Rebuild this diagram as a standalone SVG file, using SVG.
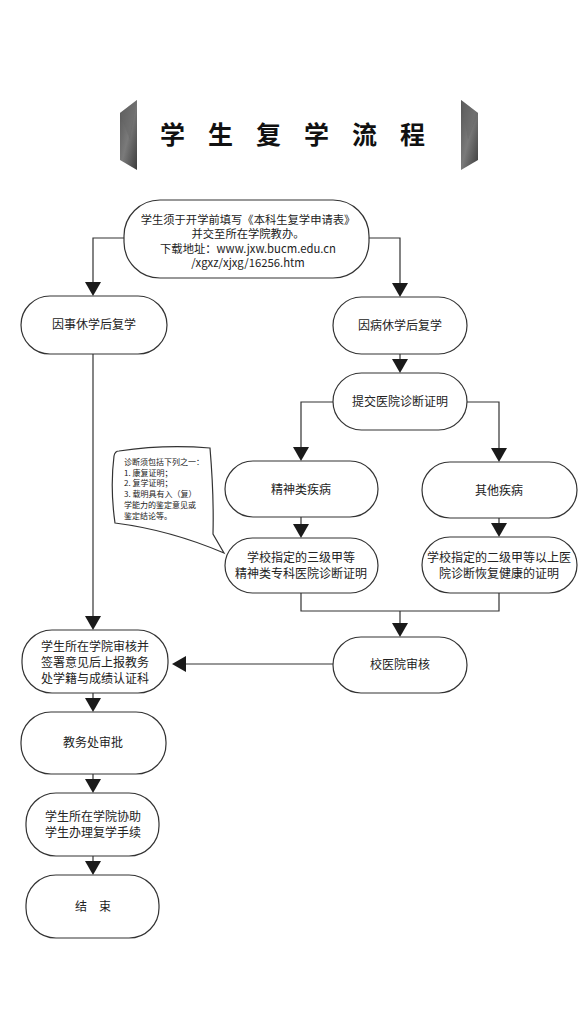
<svg xmlns="http://www.w3.org/2000/svg" width="588" height="1022" viewBox="0 0 588 1022">
<style>
.node{fill:#fff;stroke:#333;stroke-width:1.2}
.t{font-family:"Noto Sans CJK SC","Noto Sans",sans-serif;font-size:12px;fill:#222;text-anchor:middle}
.s{font-family:"Noto Sans CJK SC","Noto Sans",sans-serif;font-size:8px;fill:#222}
.c{fill:none;stroke:#333;stroke-width:1.2}
.ah{fill:#1a1a1a}
.title{font-family:"Noto Sans CJK SC","Noto Sans",sans-serif;font-size:25px;font-weight:bold;fill:#111}
</style>
<defs>
<linearGradient id="g" x1="0" y1="0" x2="1" y2="1">
<stop offset="0" stop-color="#555"/>
<stop offset="0.5" stop-color="#7a7a7a"/>
<stop offset="1" stop-color="#3c3c3c"/>
</linearGradient>
</defs>
<rect width="588" height="1022" fill="#fff"/>
<g id="title">
<polygon points="120,113 137,100 137,170 120,160" fill="url(#g)"/>
<polygon points="120,113 137,100 130,140" fill="#666" opacity="0.5"/>
<polygon points="461,100 478,113 478,160 461,170" fill="url(#g)"/>
<polygon points="461,100 478,113 468,140" fill="#666" opacity="0.5"/>
<text class="title" x="160" y="144" letter-spacing="23">学生复学流程</text>
</g>
<g id="connectors">
<path class="c" d="M124,238 H93 V284"/>
<polygon class="ah" points="85,282 101,282 93,296"/>
<path class="c" d="M369,238 H400 V285"/>
<polygon class="ah" points="392,283 408,283 400,297"/>
<path class="c" d="M400,354 V362"/>
<polygon class="ah" points="392,359 408,359 400,373"/>
<path class="c" d="M333,402 H301 V448"/>
<polygon class="ah" points="293,447 309,447 301,461"/>
<path class="c" d="M467,402 H499 V449"/>
<polygon class="ah" points="491,448 507,448 499,462"/>
<path class="c" d="M301,517 V526"/>
<polygon class="ah" points="293,524 309,524 301,538"/>
<path class="c" d="M499,518 V526"/>
<polygon class="ah" points="491,523 507,523 499,537"/>
<path class="c" d="M301,593 V611 H499 V593 M400,611 V626"/>
<polygon class="ah" points="392,623 408,623 400,637"/>
<path class="c" d="M333,664 H184"/>
<polygon class="ah" points="186,656 186,672 172,664"/>
<path class="c" d="M93,354 V618"/>
<polygon class="ah" points="85,616 101,616 93,630"/>
<path class="c" d="M93,693 V700"/>
<polygon class="ah" points="85,698 101,698 93,712"/>
<path class="c" d="M93,774 V781"/>
<polygon class="ah" points="85,779 101,779 93,793"/>
<path class="c" d="M93,856 V863"/>
<polygon class="ah" points="85,861 101,861 93,875"/>
</g>
<g id="n-start">
<rect class="node" x="124" y="200" width="245" height="78" rx="36"/>
<text class="t" style="font-size:11.3px" x="248" y="224">学生须于开学前填写《本科生复学申请表》</text>
<text class="t" style="font-size:11.3px" x="248" y="238">并交至所在学院教办。</text>
<text class="t" style="font-size:11.3px" x="248" y="253">下载地址：www.jxw.bucm.edu.cn</text>
<text class="t" style="font-size:11.3px" x="248" y="267">/xgxz/xjxg/16256.htm</text>
</g>
<g id="n-shi">
<rect class="node" x="21" y="296" width="146" height="58" rx="29"/>
<text class="t" x="94" y="329">因事休学后复学</text>
</g>
<g id="n-bing">
<rect class="node" x="333" y="297" width="134" height="57" rx="28.5"/>
<text class="t" x="400" y="330">因病休学后复学</text>
</g>
<g id="n-submit">
<rect class="node" x="333" y="373" width="134" height="57" rx="28.5"/>
<text class="t" x="400" y="406">提交医院诊断证明</text>
</g>
<g id="n-mental">
<rect class="node" x="225" y="461" width="153" height="56" rx="28"/>
<text class="t" x="301" y="494">精神类疾病</text>
</g>
<g id="n-other">
<rect class="node" x="422" y="462" width="155" height="56" rx="28"/>
<text class="t" x="499" y="495">其他疾病</text>
</g>
<g id="n-mental-cert">
<rect class="node" x="225" y="538" width="153" height="55" rx="27.5"/>
<text class="t" x="301" y="562">学校指定的三级甲等</text>
<text class="t" x="301" y="578">精神类专科医院诊断证明</text>
</g>
<g id="n-other-cert">
<rect class="node" x="422" y="537" width="155" height="56" rx="28"/>
<text class="t" x="499" y="562">学校指定的二级甲等以上医</text>
<text class="t" x="499" y="578">院诊断恢复健康的证明</text>
</g>
<g id="n-note">
<path class="node" d="M119,451 Q165,444 210,448 Q214,495 213,534 L224,553 Q170,530 115,523 Q110,488 114,456 Q115,451 119,451 Z"/>
<text class="s" x="124" y="465">诊断须包括下列之一：</text>
<text class="s" x="124" y="476">1. 康复证明；</text>
<text class="s" x="124" y="486">2. 复学证明；</text>
<text class="s" x="124" y="497">3. 载明具有入（复）</text>
<text class="s" x="124" y="508">学能力的鉴定意见或</text>
<text class="s" x="124" y="519">鉴定结论等。</text>
</g>
<g id="n-hospital">
<rect class="node" x="333" y="637" width="134" height="56" rx="28"/>
<text class="t" x="400" y="669">校医院审核</text>
</g>
<g id="n-college">
<rect class="node" x="22" y="630" width="146" height="63" rx="30"/>
<text class="t" x="95" y="651">学生所在学院审核并</text>
<text class="t" x="95" y="667">签署意见后上报教务</text>
<text class="t" x="95" y="683">处学籍与成绩认证科</text>
</g>
<g id="n-approve">
<rect class="node" x="21" y="712" width="145" height="62" rx="30"/>
<text class="t" x="93" y="747">教务处审批</text>
</g>
<g id="n-assist">
<rect class="node" x="26" y="793" width="133" height="63" rx="30"/>
<text class="t" x="93" y="821">学生所在学院协助</text>
<text class="t" x="93" y="837">学生办理复学手续</text>
</g>
<g id="n-end">
<rect class="node" x="26" y="875" width="133" height="63" rx="30"/>
<text class="t" x="93" y="911">结　束</text>
</g>
</svg>
